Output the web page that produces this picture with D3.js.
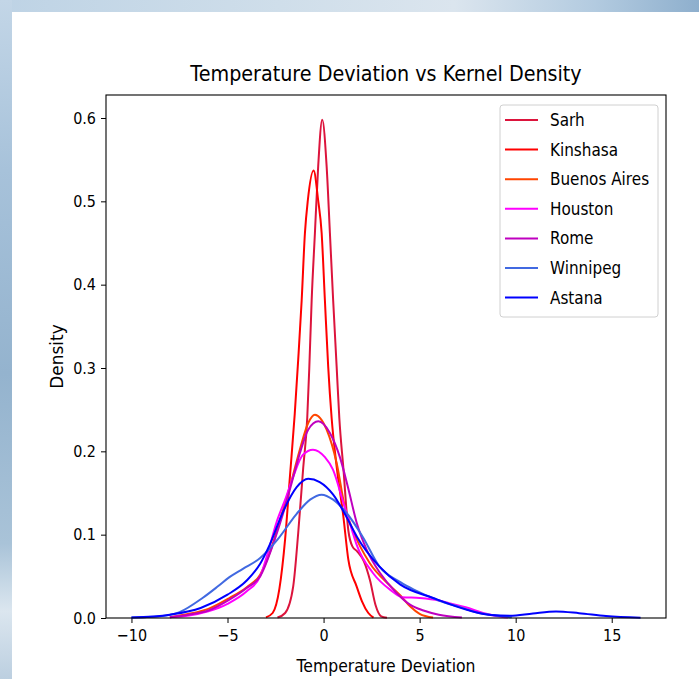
<!DOCTYPE html>
<html>
<head>
<meta charset="utf-8">
<script src="https://cdn.jsdelivr.net/npm/d3@7"></script>
<style>
  html, body { margin: 0; padding: 0; background: #fff; }
  svg { display: block; }
  text { font-family: "DejaVu Sans", sans-serif; fill: #000; }
</style>
</head>
<body>
<div id="chart"></div>
<script>
// cities in legend / draw order
const cities = ["Sarh", "Kinshasa", "Buenos Aires", "Houston", "Rome", "Winnipeg", "Astana"];
const colors = ["#dc143c", "#ff0000", "#ff4500", "#ff00ff", "#bf00bf", "#4169e1", "#0000ff"];

// kernel density curves: [temperature deviation, density]
const sarh = [[-2.4,0.0005],[-2.0,0.006],[-1.58,0.038],[-1.32,0.102],[-1.06,0.18],[-0.85,0.24],[-0.74,0.302],[-0.62,0.381],[-0.45,0.462],[-0.28,0.542],[-0.07,0.598],[0.16,0.542],[0.33,0.462],[0.5,0.381],[0.68,0.302],[0.82,0.24],[1.03,0.18],[1.29,0.105],[1.5,0.086],[1.75,0.08],[2.1,0.068],[2.42,0.045],[2.7,0.016],[3.0,0.002],[3.3,0.0003]];
const kinshasa = [[-3.0,0.0008],[-2.65,0.006],[-2.3,0.035],[-2.0,0.095],[-1.75,0.17],[-1.5,0.245],[-1.32,0.31],[-1.14,0.381],[-0.97,0.462],[-0.82,0.501],[-0.52,0.537],[-0.28,0.501],[-0.1,0.462],[0.07,0.381],[0.24,0.302],[0.42,0.24],[0.68,0.182],[1.03,0.122],[1.29,0.07],[1.72,0.038],[2.0,0.02],[2.33,0.006],[2.6,0.0005]];
const buenosAires = [[-8,0.001],[-7,0.005],[-6,0.011],[-4.9,0.024],[-4,0.037],[-3.3,0.052],[-2.7,0.085],[-2.2,0.123],[-1.7,0.162],[-1.2,0.205],[-0.8,0.234],[-0.45,0.244],[0.16,0.226],[0.68,0.186],[1.11,0.133],[1.53,0.105],[2.4,0.066],[3.5,0.038],[4.0,0.027],[4.5,0.014],[5.0,0.005],[5.7,0.0005]];
const houston = [[-8,0.001],[-7,0.003],[-6,0.008],[-5,0.017],[-4,0.032],[-3.3,0.05],[-2.9,0.078],[-2.46,0.114],[-2.0,0.142],[-1.59,0.169],[-1.07,0.196],[-0.55,0.202],[0.07,0.193],[0.49,0.178],[1.01,0.14],[1.46,0.107],[1.72,0.088],[2.57,0.054],[3.46,0.034],[4.1,0.025],[5.0,0.024],[6.0,0.021],[6.5,0.018],[7.4,0.013],[8.3,0.006],[9.0,0.0024],[9.6,0.0005]];
const rome = [[-8,0.001],[-7,0.004],[-6,0.009],[-4.9,0.022],[-4,0.036],[-3.3,0.05],[-2.5,0.097],[-2.1,0.126],[-1.66,0.162],[-1.23,0.198],[-0.8,0.226],[-0.27,0.236],[0.33,0.222],[0.85,0.193],[1.27,0.157],[1.74,0.113],[2.24,0.082],[2.94,0.054],[3.8,0.03],[4.5,0.016],[5.2,0.009],[6.0,0.004],[7.2,0.0005]];
const winnipeg = [[-10,0.0005],[-8.5,0.002],[-7.5,0.007],[-6.3,0.024],[-5.5,0.038],[-4.9,0.049],[-4.2,0.059],[-3.3,0.072],[-2.4,0.094],[-1.4,0.125],[-0.7,0.142],[-0.1,0.148],[0.5,0.142],[1.2,0.126],[2.05,0.097],[2.9,0.062],[4.0,0.043],[4.7,0.034],[6.0,0.021],[7.1,0.013],[8.1,0.006],[8.8,0.0035],[9.8,0.0008]];
const astana = [[-10,0.0005],[-8,0.004],[-6.4,0.012],[-5,0.028],[-4,0.045],[-3.3,0.065],[-2.8,0.088],[-2.1,0.128],[-1.4,0.157],[-0.8,0.167],[-0.2,0.163],[0.5,0.148],[1.2,0.121],[1.75,0.097],[2.9,0.062],[4.0,0.04],[5.7,0.024],[7.5,0.0096],[8.7,0.0036],[9.7,0.0026],[10.9,0.0055],[12.1,0.0078],[13.3,0.0058],[14.7,0.0025],[16.5,0.0004]];
const series = [sarh, kinshasa, buenosAires, houston, rome, winnipeg, astana];

const xTicks = [-10, -5, 0, 5, 10, 15];
const yTicks = [0, 0.1, 0.2, 0.3, 0.4, 0.5, 0.6];

const W = 699, H = 679;
const svg = d3.select("#chart").append("svg").attr("width", W).attr("height", H);

// blurred photo-ish backdrop round the white panel
const defs = svg.append("defs");
const gl = defs.append("linearGradient").attr("id", "bgLeft").attr("x1", 0).attr("y1", 0).attr("x2", 0).attr("y2", 1);
[["0%", "#c3d6e7"], ["25%", "#a7c2da"], ["55%", "#94b3ce"], ["80%", "#a9c3d8"], ["90%", "#dbe6ef"], ["100%", "#bccfe0"]]
  .forEach(s => gl.append("stop").attr("offset", s[0]).attr("stop-color", s[1]));
const gt = defs.append("linearGradient").attr("id", "bgTop").attr("x1", 0).attr("y1", 0).attr("x2", 1).attr("y2", 0);
[["0%", "#bed3e5"], ["40%", "#cfdeea"], ["65%", "#dbe5ee"], ["85%", "#b3cbe0"], ["100%", "#8eafcd"]]
  .forEach(s => gt.append("stop").attr("offset", s[0]).attr("stop-color", s[1]));
svg.append("rect").attr("x", 0).attr("y", 0).attr("width", W).attr("height", 12).attr("fill", "url(#bgTop)");
svg.append("rect").attr("x", 0).attr("y", 0).attr("width", 12).attr("height", H).attr("fill", "url(#bgLeft)");
svg.append("rect").attr("x", 12).attr("y", 12).attr("width", W - 12).attr("height", H - 12).attr("fill", "#fff");

// the picture is squashed sideways, so text is narrowed to match
function squash(sel, k) {
  sel.each(function () {
    const w = this.getComputedTextLength();
    d3.select(this).attr("textLength", w * k).attr("lengthAdjust", "spacingAndGlyphs");
  });
}
const K = 0.87;

const mLeft = 106, mRight = 666, mTop = 95, mBottom = 618;
const x = d3.scaleLinear().domain([-11.325, 17.825]).range([mLeft, mRight]);
const y = d3.scaleLinear().domain([0, 0.6276]).range([mBottom, mTop]);

// axes
const xAxis = svg.append("g").attr("transform", `translate(0,${mBottom})`)
  .call(d3.axisBottom(x).tickValues(xTicks).tickSize(5).tickPadding(6).tickFormat(d => d < 0 ? "\u2212" + Math.abs(d) : d));
const yAxis = svg.append("g").attr("transform", `translate(${mLeft},0)`)
  .call(d3.axisLeft(y).tickValues(yTicks).tickSize(5).tickPadding(5).tickFormat(d3.format(".1f")));
[xAxis, yAxis].forEach(a => {
  a.select(".domain").remove();
  a.selectAll("line").attr("stroke", "#000").attr("stroke-width", 1);
  a.selectAll("text").style("font-size", "16.5px").attr("fill", "#000");
});
squash(xAxis.selectAll("text"), K);
squash(yAxis.selectAll("text"), K);

// curves
const line = d3.line().x(d => x(d[0])).y(d => y(d[1])).curve(d3.curveMonotoneX);
const plot = svg.append("g");
plot.selectAll("path").data(series).enter().append("path")
  .attr("d", line)
  .attr("fill", "none")
  .attr("stroke", (d, i) => colors[i])
  .attr("stroke-width", 2)
  .attr("stroke-linejoin", "round");

// frame
svg.append("rect").attr("x", mLeft).attr("y", mTop).attr("width", mRight - mLeft).attr("height", mBottom - mTop)
  .attr("fill", "none").attr("stroke", "#000").attr("stroke-width", 1.1);

// titles
const title = svg.append("text").attr("x", (mLeft + mRight) / 2).attr("y", 81)
  .attr("text-anchor", "middle").style("font-size", "22px").text("Temperature Deviation vs Kernel Density");
squash(title, K);
const xLab = svg.append("text").attr("x", (mLeft + mRight) / 2).attr("y", 672)
  .attr("text-anchor", "middle").style("font-size", "18px").text("Temperature Deviation");
squash(xLab, K);
svg.append("text").attr("transform", `translate(63,${(mTop + mBottom) / 2}) rotate(-90)`)
  .attr("text-anchor", "middle").style("font-size", "17px").text("Density");

// legend
const lg = svg.append("g");
lg.append("rect").attr("x", 500).attr("y", 105).attr("width", 158).attr("height", 212).attr("rx", 3)
  .attr("fill", "#fff").attr("fill-opacity", 0.8).attr("stroke", "#d0d0d0").attr("stroke-width", 1);
const rowY = i => 120 + i * 29.6;
const items = lg.selectAll("g.item").data(cities).enter().append("g").attr("class", "item");
items.append("line").attr("x1", 505).attr("x2", 538).attr("y1", (d, i) => rowY(i)).attr("y2", (d, i) => rowY(i))
  .attr("stroke", (d, i) => colors[i]).attr("stroke-width", 2);
const lt = items.append("text").attr("x", 550).attr("y", (d, i) => rowY(i) + 6).style("font-size", "17.5px").text(d => d);
squash(lt, K);
</script>
</body>
</html>
